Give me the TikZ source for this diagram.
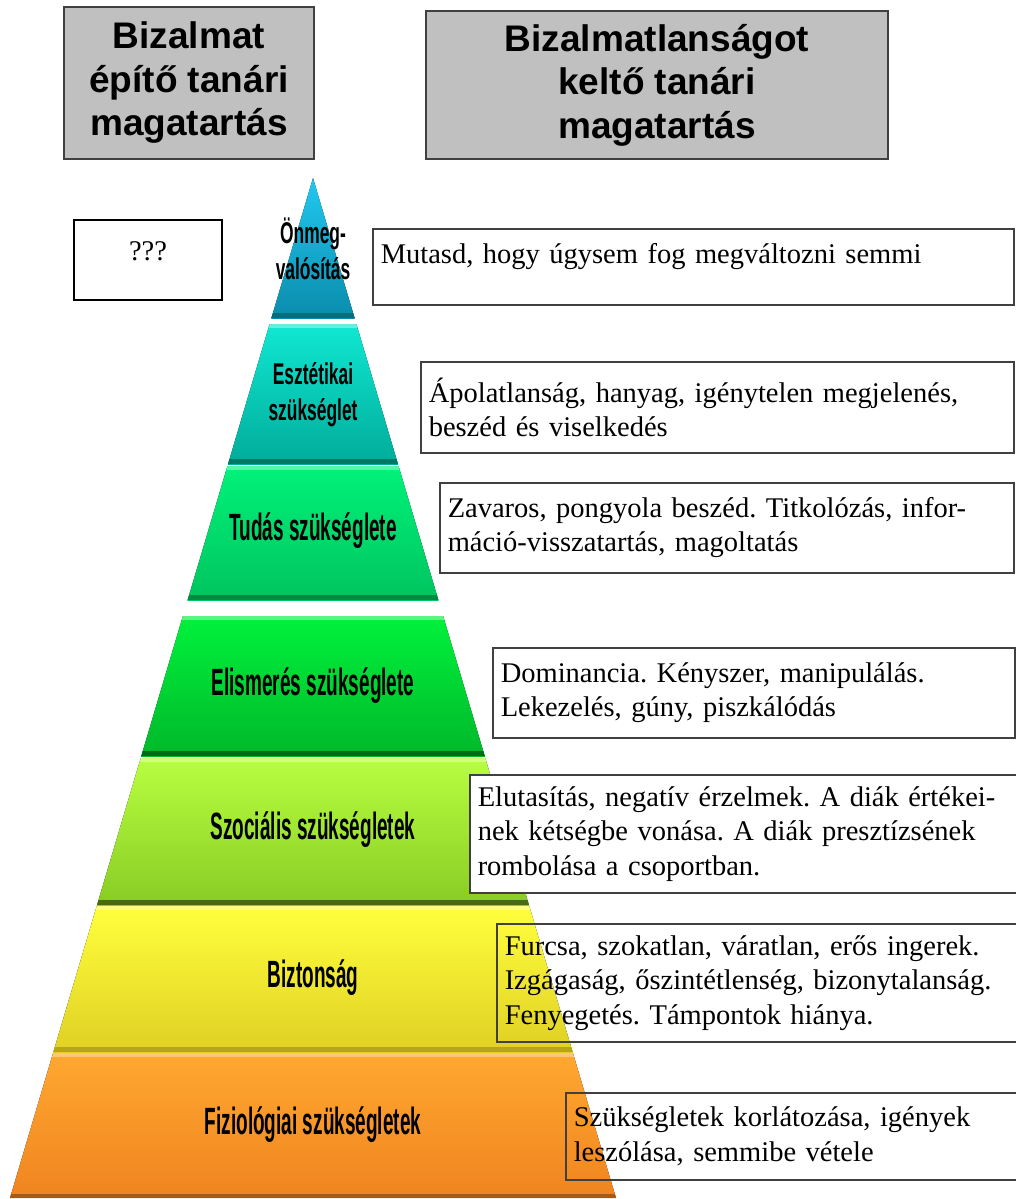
\documentclass[tikz,border=0pt]{standalone}
\usepackage{fontspec}
\setmainfont{Liberation Serif}
\setsansfont{Liberation Sans}
\usepackage{tikz}
\frenchspacing

\definecolor{boxgray}{HTML}{C0C0C0}
\definecolor{edgegray}{HTML}{404040}
\definecolor{c1top}{HTML}{22C8F0}
\definecolor{c1bot}{HTML}{0A8CAC}
\definecolor{c1edge}{HTML}{0A6A80}
\definecolor{c2top}{HTML}{10E8D2}
\definecolor{c2bot}{HTML}{00AC9A}
\definecolor{c2edge}{HTML}{007866}
\definecolor{c3top}{HTML}{00F27A}
\definecolor{c3bot}{HTML}{00C45E}
\definecolor{c3edge}{HTML}{008A40}
\definecolor{c4top}{HTML}{00F23C}
\definecolor{c4bot}{HTML}{00B82A}
\definecolor{c4edge}{HTML}{006A14}
\definecolor{c5top}{HTML}{B8FF40}
\definecolor{c5bot}{HTML}{88CC24}
\definecolor{c5edge}{HTML}{4A6A12}
\definecolor{c6top}{HTML}{FFFF3C}
\definecolor{c6bot}{HTML}{E0D024}
\definecolor{c6edge}{HTML}{B8A41C}
\definecolor{c7top}{HTML}{FFA830}
\definecolor{c7bot}{HTML}{F08420}
\definecolor{c7edge}{HTML}{A85A14}

\begin{document}
\begin{tikzpicture}[x=1pt,y=-1pt,
  header/.style={draw=edgegray,line width=2pt,fill=boxgray,align=center,anchor=north west,
    font=\sffamily\bfseries\fontsize{37}{43.5}\selectfont},
  behav/.style={draw=edgegray,line width=1.5pt,align=left,anchor=north west,inner xsep=8pt,
    font=\fontsize{28.5}{34.5}\selectfont},
  tier/.style={align=center,text=black},
  tierone/.style={tier,font=\sffamily\bfseries\fontsize{38}{42}\selectfont,xscale=0.5},
  tiertwo/.style={tier,font=\sffamily\bfseries\fontsize{30}{36}\selectfont,xscale=0.58}]
  \useasboundingbox (0,0) rectangle (1016,1199);

  \node[header,minimum width=250,minimum height=152] (trustbox) at (63,6)
    {Bizalmat\\építő tanári\\magatartás};
  \node[header,minimum width=462,minimum height=148] (distrustbox) at (425,10)
    {Bizalmatlanságot\\keltő tanári\\magatartás};

  \begin{scope}
    \clip
      (313,178)
      --
      (616,1198)
      --
      (10,1198)
      --
      cycle;
    \fill[top color=c1top,bottom color=c1bot] (0,178) rectangle (630,318);
    \fill[c1edge] (0,313) rectangle (630,318);
    \fill[top color=c2top,bottom color=c2bot] (0,324) rectangle (630,464);
    \fill[c2edge] (0,459) rectangle (630,464);
    \fill[top color=c3top,bottom color=c3bot] (0,466) rectangle (630,600);
    \fill[c3edge] (0,595) rectangle (630,600);
    \fill[top color=c4top,bottom color=c4bot] (0,616) rectangle (630,756);
    \fill[c4edge] (0,751) rectangle (630,756);
    \fill[top color=c5top,bottom color=c5bot] (0,758) rectangle (630,905);
    \fill[c5edge] (0,900) rectangle (630,905);
    \fill[top color=c6top,bottom color=c6bot] (0,906) rectangle (630,1052);
    \fill[c6edge] (0,1047) rectangle (630,1052);
    \fill[top color=c7top,bottom color=c7bot] (0,1053) rectangle (630,1198);
    \fill[c7edge] (0,1194) rectangle (630,1198);
    \foreach \y in {324,466,616,758,906,1053}
      \fill[white,opacity=0.35] (0,\y) rectangle (630,\y+4);
  \end{scope}

  \node[tiertwo] (t1) at (313,249) {Önmeg-\\valósítás};
  \node[tiertwo] (t2) at (313,395) {Esztétikai\\szükséglet};
  \node[tierone] (t3) at (313,531) {Tudás szükséglete};
  \node[tierone] (t4) at (313,686) {Elismerés szükséglete};
  \node[tierone] (t5) at (313,830) {Szociális szükségletek};
  \node[tierone] (t6) at (313,978) {Biztonság};
  \node[tierone] (t7) at (313,1125) {Fiziológiai szükségletek};

  \node[draw=black,line width=2pt,anchor=north west,minimum width=148,minimum height=80,
    font=\fontsize{28.5}{34.5}\selectfont,text height=20pt,text depth=19pt] (unknown) at (73,219) {???};

  \node[behav,fill=white,minimum width=641,minimum height=76,text width=625,
    text height=21pt,text depth=27pt] (act1) at (372,228)
    {Mutasd, hogy úgysem fog megváltozni semmi};
  \node[behav,fill=white,minimum width=593,minimum height=91,text width=577] (act2) at (420,361)
    {Ápolatlanság, hanyag, igénytelen megjelenés,\\beszéd és viselkedés};
  \node[behav,fill=white,minimum width=574,minimum height=90,text width=558] (act3) at (439,482)
    {Zavaros, pongyola beszéd. Titkolózás, infor-\\máció-visszatartás, magoltatás};
  \node[behav,fill=white,minimum width=522,minimum height=90,text width=506] (act4) at (492,647)
    {Dominancia. Kényszer, manipulálás.\\Lekezelés, gúny, piszkálódás};
  \node[behav,fill=white,minimum width=550,minimum height=118,text width=534] (act5) at (469,774)
    {Elutasítás, negatív érzelmek. A diák értékei-\\nek kétségbe vonása. A diák presztízsének\\rombolása a csoportban.};
  \node[behav,minimum width=525,minimum height=118,text width=509] (act6) at (496,923)
    {Furcsa, szokatlan, váratlan, erős ingerek.\\Izgágaság, őszintétlenség, bizonytalanság.\\Fenyegetés. Támpontok hiánya.};
  \node[behav,minimum width=456,minimum height=87,text width=440] (act7) at (565,1092)
    {Szükségletek korlátozása, igények\\leszólása, semmibe vétele};
\end{tikzpicture}
\end{document}
